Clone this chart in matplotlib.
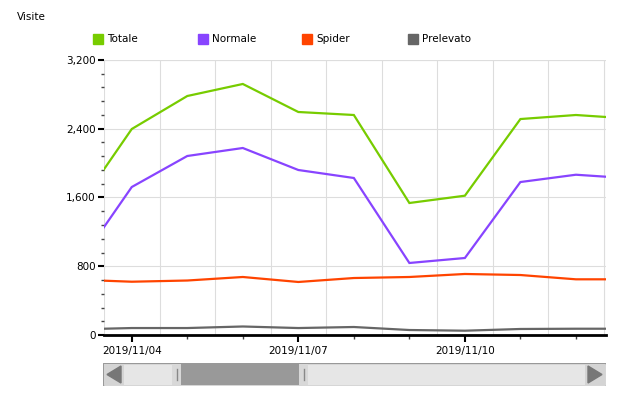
import matplotlib
matplotlib.use("Agg")
import matplotlib.pyplot as plt
import matplotlib.dates as mdates
from matplotlib.patches import Rectangle, Polygon
from matplotlib.ticker import FuncFormatter, MultipleLocator
import numpy as np
import pandas as pd

# data (daily values)
days = pd.date_range("2019-11-03", "2019-11-13", freq="D")
totale = [1460, 2397, 2781, 2921, 2595, 2560, 1536, 1621, 2513, 2560, 2517]
normale = [790, 1722, 2083, 2176, 1920, 1827, 838, 896, 1780, 1865, 1822]
spider = [644, 620, 634, 675, 617, 663, 675, 710, 698, 648, 648]
prelevato = [65, 81, 81, 99, 81, 93, 58, 50, 70, 73, 73]

series = [("Totale", totale, "#77cc00"),
          ("Normale", normale, "#8844ff"),
          ("Spider", spider, "#ff4400"),
          ("Prelevato", prelevato, "#666666")]

x_start = pd.Timestamp("2019-11-03 12:00")
x_end = pd.Timestamp("2019-11-12 13:00")
fs = 7.5

fig = plt.figure(figsize=(6.17, 3.95), dpi=100)
ax = fig.add_axes([104 / 617, 1 - 335 / 395, 502 / 617, 275 / 395])

for name, vals, col in series:
    ax.plot(days, vals, color=col, lw=1.6, solid_joinstyle="miter")

ax.set_xlim(x_start, x_end)
ax.set_ylim(0, 3200)

# y axis
ax.yaxis.set_major_locator(MultipleLocator(800))
ax.yaxis.set_minor_locator(MultipleLocator(160))
ax.yaxis.set_major_formatter(FuncFormatter(lambda v, p: f"{int(v):,}"))
ax.tick_params(axis="y", which="major", length=4, width=1.5, color="black",
               labelsize=fs, pad=2)
ax.tick_params(axis="y", which="minor", length=2, width=1, color="#444444")

# x axis
ax.xaxis.set_major_locator(mdates.DayLocator(bymonthday=[4, 7, 10]))
ax.xaxis.set_minor_locator(mdates.DayLocator())
ax.xaxis.set_major_formatter(mdates.DateFormatter("%Y/%m/%d"))
ax.tick_params(axis="x", which="major", length=5, width=1.5, color="black",
               labelsize=fs, pad=3)
ax.tick_params(axis="x", which="minor", length=3, width=1, color="#444444")

# grid: horizontal at major values, vertical at midday
ax.grid(axis="y", which="major", color="#dddddd", lw=0.8)
for d in pd.date_range("2019-11-03 12:00", "2019-11-12 12:00", freq="D"):
    ax.axvline(d, color="#dddddd", lw=0.8, zorder=0)

for s in ["top", "right", "left"]:
    ax.spines[s].set_visible(False)
ax.spines["bottom"].set_linewidth(2)
ax.axhline(3200, color="#dddddd", lw=0.8, zorder=0)
ax.axvline(x_end, color="#dddddd", lw=0.8, zorder=0)
ax.set_axisbelow(True)

# title and legend
fig.text(17 / 617, 1 - 17 / 395, "Visite", fontsize=fs, va="center", ha="left")
leg_x = [93, 198, 302, 408]
for (name, vals, col), lx in zip(series, leg_x):
    fig.patches.append(Rectangle((lx / 617, 1 - 44 / 395), 10 / 617, 10 / 395,
                                 transform=fig.transFigure, color=col))
    fig.text((lx + 14) / 617, 1 - 39 / 395, name, fontsize=fs, va="center", ha="left")

# scrollbar
sb = fig.add_axes([103 / 617, 1 - 386 / 395, 503 / 617, 23 / 395])
sb.set_xlim(0, 503)
sb.set_ylim(0, 23)
sb.axis("off")
sb.add_patch(Rectangle((0, 0), 503, 23, facecolor="#e6e6e6", edgecolor="#999999", lw=1))
sb.add_patch(Rectangle((1, 1), 20, 21, facecolor="#d4d4d4", edgecolor="none"))
sb.add_patch(Rectangle((482, 1), 20, 21, facecolor="#d4d4d4", edgecolor="none"))
sb.add_patch(Polygon([[4, 11.5], [18, 3], [18, 20]], color="#777777"))
sb.add_patch(Polygon([[499, 11.5], [485, 3], [485, 20]], color="#777777"))
sb.add_patch(Rectangle((69, 1), 9, 21, facecolor="#d8d8d8", edgecolor="none"))
sb.add_patch(Rectangle((196, 1), 9, 21, facecolor="#d8d8d8", edgecolor="none"))
sb.add_patch(Rectangle((78, 1), 118, 21, facecolor="#999999", edgecolor="none"))
sb.plot([73.5, 73.5], [6, 17], color="#888888", lw=1)
sb.plot([200.5, 200.5], [6, 17], color="#888888", lw=1)

fig.savefig("out.png", dpi=100)
